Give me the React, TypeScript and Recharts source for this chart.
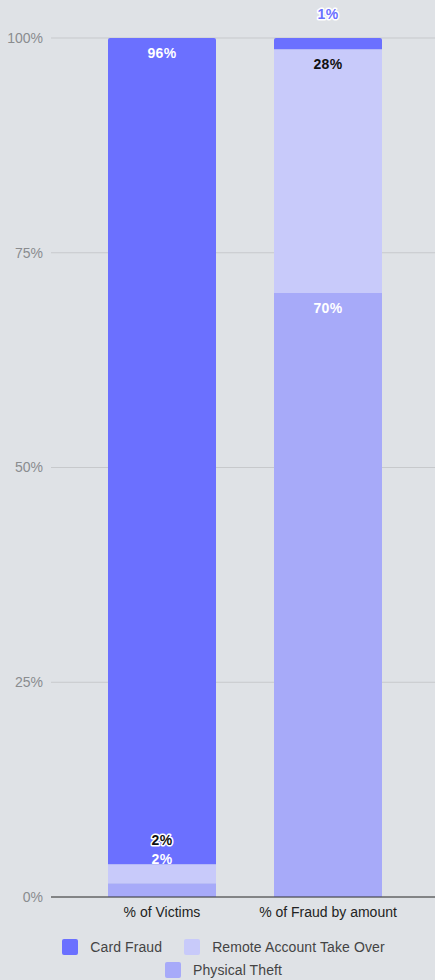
import React from "react";
import { BarChart, Bar, XAxis, YAxis, CartesianGrid, Legend, LabelList } from "recharts";

const categories = ["% of Victims", "% of Fraud by amount"];
const cardFraud = [96.2, 1.3];
const remoteTakeover = [2.2, 28.4];
const physicalTheft = [1.6, 70.3];
const yTicks = [0, 25, 50, 75, 100];

const COLORS = {
  card: "#6b70ff",
  remote: "#c8cafa",
  physical: "#a7aaf9",
};

const seriesInfo = [
  { key: "physical", name: "Physical Theft", color: COLORS.physical, inside: "#ffffff", outFill: "#ffffff", outStroke: "none" },
  { key: "remote", name: "Remote Account Take Over", color: COLORS.remote, inside: "#111111", outFill: "#111111", outStroke: "#ffffff" },
  { key: "card", name: "Card Fraud", color: COLORS.card, inside: "#ffffff", outFill: COLORS.card, outStroke: "#ffffff" },
];

const data = categories.map((c, i) => ({
  name: c,
  card: cardFraud[i],
  remote: remoteTakeover[i],
  physical: physicalTheft[i],
}));

const FONT = "'Liberation Sans', Arial, sans-serif";

function makeLabel(info: any) {
  return (props: any) => {
    const { x, y, width, height, value } = props;
    const txt = Math.round(Number(value)) + "%";
    const cx = Number(x) + Number(width) / 2;
    const top = Number(y);
    const h = Number(height);
    if (h >= 22) {
      return (
        <text x={cx} y={top + 14.5} textAnchor="middle" dominantBaseline="central" fontFamily={FONT} fontSize={14} fontWeight="bold" fill={info.inside} letterSpacing={0.3}>
          {txt}
        </text>
      );
    }
    return (
      <text
        x={cx}
        y={top - 24}
        textAnchor="middle"
        dominantBaseline="central"
        fontFamily={FONT}
        fontSize={14}
        fontWeight="bold"
        letterSpacing={0.3}
        fill={info.outFill}
        stroke={info.outStroke}
        strokeWidth={info.outStroke === "none" ? 0 : 3}
        paintOrder="stroke"
        strokeLinejoin="round"
      >
        {txt}
      </text>
    );
  };
}

const legendOrder = [
  { name: "Card Fraud", color: COLORS.card },
  { name: "Remote Account Take Over", color: COLORS.remote },
  { name: "Physical Theft", color: COLORS.physical },
];

function CustomLegend() {
  return (
    <div style={{ width: 435, boxSizing: "border-box", display: "flex", flexWrap: "wrap", justifyContent: "center", rowGap: 7, fontFamily: FONT, fontSize: 14, color: "#444", paddingTop: 12, paddingLeft: 12, letterSpacing: 0.1 }}>
      {legendOrder.map((l) => (
        <div key={l.name} style={{ display: "flex", alignItems: "center", margin: "0 11px", height: 16 }}>
          <div style={{ width: 16, height: 16, background: l.color, borderRadius: 2, marginRight: 12 }} />
          <span style={{ whiteSpace: "nowrap" }}>{l.name}</span>
        </div>
      ))}
    </div>
  );
}

export default function App() {
  if (typeof document !== "undefined") {
    document.body.style.margin = "0";
    document.body.style.background = "#dfe2e6";
  }
  return (
    <div style={{ width: 435, height: 980, background: "#dfe2e6" }}>
      <BarChart width={435} height={980} data={data} margin={{ top: 38, right: 0, left: 0, bottom: 0 }} barSize={108}>
        <CartesianGrid vertical={false} stroke="#c7c9cc" />
        <XAxis
          dataKey="name"
          padding={{ left: 28, right: 24 }}
          axisLine={{ stroke: "#333" }}
          tickLine={false}
          height={30}
          tickMargin={4}
          tick={{ fontFamily: FONT, fontSize: 14, fill: "#222" }}
        />
        <YAxis
          domain={[0, 100]}
          ticks={yTicks}
          tickFormatter={(v: number) => v + "%"}
          axisLine={false}
          tickLine={false}
          width={51}
          tick={{ fontFamily: FONT, fontSize: 14, fill: "#8a8c8f" }}
        />
        <Legend verticalAlign="bottom" height={53} content={() => <CustomLegend />} />
        {seriesInfo.map((s) => (
          <Bar
            key={s.key}
            dataKey={s.key}
            name={s.name}
            stackId="a"
            fill={s.color}
            isAnimationActive={false}
            radius={s.key === "card" ? [2, 2, 0, 0] : 0}
          >
            <LabelList dataKey={s.key} content={makeLabel(s)} />
          </Bar>
        ))}
      </BarChart>
    </div>
  );
}
